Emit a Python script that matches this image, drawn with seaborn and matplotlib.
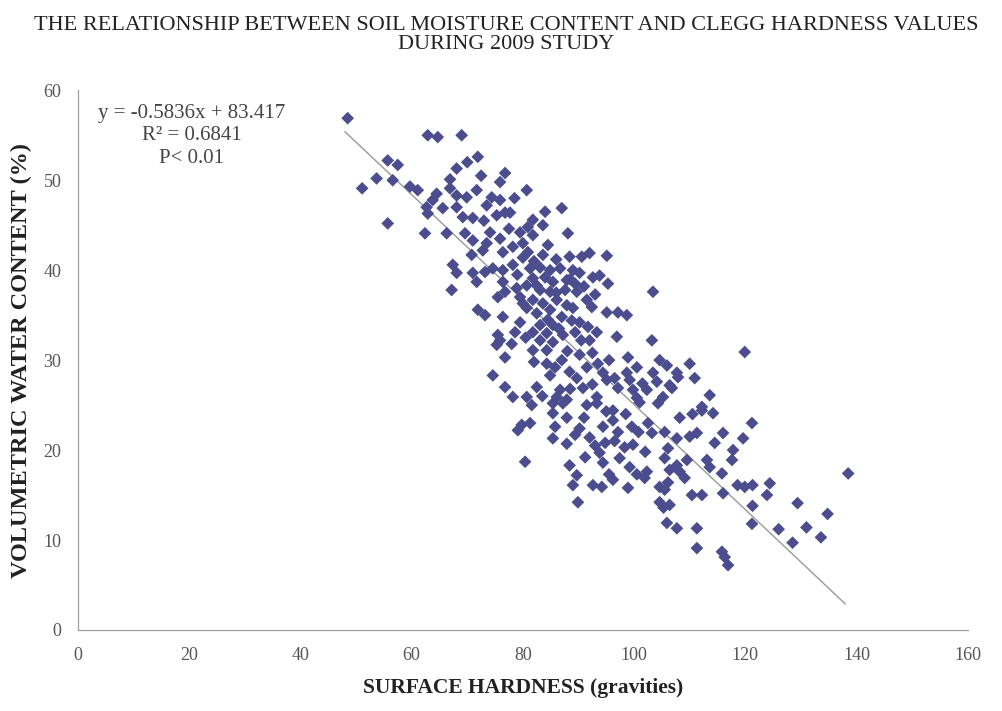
import numpy as np
import pandas as pd
import matplotlib
matplotlib.use("Agg")
import matplotlib.pyplot as plt
import seaborn as sns

# ---------- data ----------
hardness = [
    48.5, 62.9, 64.7, 69.0, 71.9, 55.7, 57.5, 68.1, 76.8, 53.7, 56.6, 59.7, 61.1, 51.1,
    66.9, 66.9, 75.9, 71.7, 68.1, 69.9, 74.4, 63.8, 62.7, 65.6, 68.1, 73.5, 75.9, 62.9,
    69.2, 71.0, 75.3, 76.8, 55.7, 62.4, 66.3, 69.6, 74.1, 71.0, 73.5, 75.9, 70.8, 72.8,
    76.4,
    80.7, 87.0, 77.7, 81.8, 83.6, 80.9, 88.1, 79.5, 81.8, 80.0, 84.5, 78.2, 80.9, 88.4,
    90.6, 92.0, 95.1, 83.6, 80.0,
    103.4, 76.4, 78.2, 81.3, 83.1, 84.9, 86.7, 89.0, 90.2, 92.6, 93.8, 81.8, 84.0, 85.4,
    87.9, 89.4, 95.3, 80.7, 76.8, 78.9, 83.1, 84.9, 87.6, 89.7, 91.5, 92.4, 95.1, 97.1,
    98.7, 79.5, 81.8, 83.6, 86.1, 87.9, 76.4, 80.7, 82.5, 84.9, 87.0, 88.8, 90.2, 91.7,
    93.3, 79.5, 83.1, 85.4, 78.6, 81.8, 84.3, 87.2, 89.4, 96.9, 103.2, 75.9, 83.1, 85.4,
    92.0, 81.8, 84.3, 90.2, 76.8, 98.9, 104.6, 84.3, 85.8, 91.5, 93.5, 105.9, 107.7, 84.9,
    88.4, 94.4, 98.7, 103.4, 89.7, 95.1, 99.2, 104.1, 106.4, 76.8, 82.5, 86.7, 90.8, 97.1,
    99.8, 102.3, 78.2, 80.7, 86.1, 87.9, 93.3, 100.5, 105.2, 91.5,
    67.4, 68.1, 71.0, 73.2, 71.7, 74.6, 76.4, 67.2, 75.5, 71.9, 73.2, 75.5, 75.3, 74.6,
    81.6, 85.4, 87.2, 85.4, 87.9, 79.8, 81.3, 79.1, 85.8, 89.4, 85.4, 87.9, 80.4, 88.4,
    89.7, 89.0, 89.9,
    93.3, 96.2, 101.0, 104.3, 112.2, 114.2, 90.2, 92.0, 94.4, 96.2, 97.1, 94.8, 99.6, 102.5,
    103.2, 105.5, 108.2, 107.7, 111.3, 116.0, 119.6, 98.3, 99.8, 106.1, 117.8, 93.8, 97.4, 91.2,
    94.4, 99.2, 105.5, 107.7, 109.5, 113.1, 113.6, 117.6, 102.3, 106.4, 108.2, 109.1, 115.8, 118.6,
    92.6, 94.2, 96.2, 98.9, 101.9, 104.6, 106.1, 105.5, 110.4, 112.2, 116.0, 104.6, 106.4, 105.3,
    105.9, 107.7, 111.3, 111.3, 115.8, 116.3, 116.9,
    121.2, 138.5, 119.9, 121.3, 124.4, 123.9, 121.3, 129.4, 134.8, 121.2, 126.0, 131.0, 128.5, 133.6,
    119.9, 110.0, 107.9, 110.9, 106.8, 113.6, 112.2,
    # denser core of the cloud
    82.0, 86.0, 79.0, 88.5, 91.0, 82.5, 86.0, 93.0, 80.0, 84.5, 89.0, 86.5, 90.5, 80.5,
    78.0, 88.0, 82.0, 87.0, 92.5, 95.5, 96.5, 100.5, 101.5, 92.5, 88.5, 83.5, 95.0, 98.5,
    91.0, 100.8, 93.0, 96.5, 102.0, 95.5, 100.5, 110.0, 114.5, 110.5, 77.5, 73.0, 78.5, 84.0,
    72.5, 64.5, 70.0,
]
moisture = [
    56.9, 55.0, 54.8, 55.0, 52.6, 52.2, 51.7, 51.3, 50.8, 50.2, 50.0, 49.3, 48.9, 49.1,
    50.1, 49.1, 49.8, 48.9, 48.3, 48.1, 48.1, 47.8, 47.0, 46.9, 47.0, 47.2, 47.8, 46.3,
    45.9, 45.8, 46.1, 46.4, 45.2, 44.1, 44.1, 44.1, 44.2, 43.3, 43.0, 43.5, 41.7, 42.2,
    42.0,
    48.9, 46.9, 46.4, 45.6, 45.0, 44.8, 44.1, 44.2, 43.9, 43.0, 42.8, 42.6, 42.0, 41.5,
    41.5, 41.9, 41.6, 41.7, 41.4,
    37.6, 40.0, 40.6, 40.2, 40.3, 40.0, 40.2, 40.0, 39.7, 39.2, 39.4, 39.1, 39.2, 38.7,
    38.9, 38.5, 38.5, 38.3, 37.6, 38.0, 37.8, 37.6, 37.8, 37.6, 36.7, 35.9, 35.3, 35.3,
    35.0, 37.0, 36.7, 36.3, 36.7, 36.1, 34.8, 35.8, 35.2, 35.6, 34.8, 34.4, 34.2, 33.7,
    33.1, 34.2, 33.9, 33.9, 33.1, 33.1, 33.0, 32.8, 33.1, 32.6, 32.2, 32.2, 32.2, 32.0,
    32.2, 31.1, 31.1, 30.6, 30.3, 30.3, 30.0, 29.6, 29.2, 29.2, 29.6, 29.4, 28.6, 28.3,
    28.7, 28.6, 28.6, 28.6, 28.0, 27.8, 27.8, 27.6, 27.2, 27.0, 27.0, 26.7, 26.9, 26.9,
    26.7, 26.7, 25.9, 25.9, 25.9, 25.6, 25.9, 25.8, 25.9, 25.0,
    40.6, 39.7, 39.7, 39.8, 38.7, 40.2, 38.7, 37.8, 37.0, 35.6, 35.0, 32.8, 31.7, 28.3,
    25.0, 25.2, 25.2, 24.1, 23.6, 22.8, 23.0, 22.2, 22.6, 21.7, 21.3, 20.7, 18.7, 18.3,
    17.2, 16.1, 14.2,
    25.2, 24.4, 25.3, 25.2, 24.4, 24.1, 22.4, 21.4, 22.6, 23.3, 22.0, 20.8, 22.6, 23.0,
    21.9, 22.0, 23.6, 21.3, 21.9, 21.9, 21.3, 20.3, 20.6, 20.2, 20.0, 19.7, 19.1, 19.2,
    18.6, 18.1, 19.1, 18.3, 18.9, 18.9, 18.1, 18.9, 17.6, 17.8, 17.6, 16.9, 17.4, 16.1,
    16.1, 15.9, 16.7, 15.8, 16.9, 15.9, 16.4, 15.6, 15.0, 15.0, 15.2, 14.2, 13.9, 13.6,
    11.9, 11.3, 11.3, 9.1, 8.7, 8.1, 7.2,
    23.0, 17.4, 15.9, 16.1, 16.3, 15.0, 13.8, 14.1, 12.9, 11.8, 11.2, 11.4, 9.7, 10.3,
    30.9, 29.6, 28.1, 28.0, 26.9, 26.1, 24.8,
    41.0, 41.2, 39.5, 39.0, 38.2, 38.3, 37.5, 37.3, 36.3, 34.5, 35.8, 33.5, 32.2, 32.5,
    31.8, 31.0, 29.8, 30.0, 30.8, 30.0, 28.0, 29.2, 27.4, 27.3, 26.8, 26.0, 24.3, 24.0,
    23.6, 22.0, 20.5, 21.0, 19.8, 17.3, 17.3, 21.5, 20.8, 24.0, 44.6, 45.5, 48.0, 46.5,
    50.5, 48.5, 52.0,
]

# linear trend line reported on the chart
slope, intercept = -0.5836, 83.417
trend_x = [48, 138]

x_ticks = [0, 20, 40, 60, 80, 100, 120, 140, 160]
y_ticks = [0, 10, 20, 30, 40, 50, 60]

df = pd.DataFrame({"hardness": hardness, "moisture": moisture})

sns.set_style("white")
plt.rcParams["font.family"] = ["Liberation Serif", "DejaVu Serif"]

fig = plt.figure(figsize=(10.02, 7.11), dpi=100)
ax = fig.add_axes([0.0778, 0.114, 0.888, 0.759])

sns.scatterplot(data=df, x="hardness", y="moisture", marker="D", s=42,
                color="#4b4d8e", edgecolor="none", ax=ax, zorder=3)

tx = np.array(trend_x, dtype=float)
ax.plot(tx, slope * tx + intercept, color="#9a9a9a", lw=1.0, zorder=2)

ax.set_xlim(0, 160)
ax.set_ylim(0, 60)
ax.set_xticks(x_ticks)
ax.set_yticks(y_ticks)
ax.tick_params(axis="both", direction="out", length=4, width=0.8,
               color="#999999", labelcolor="#555555", labelsize=13, pad=8)
for side in ["top", "right"]:
    ax.spines[side].set_visible(False)
for side in ["left", "bottom"]:
    ax.spines[side].set_color("#a0a0a0")
    ax.spines[side].set_linewidth(0.9)

ax.set_xlabel("SURFACE HARDNESS (gravities)", fontsize=15.5, fontweight="bold",
              color="#222222", labelpad=10)
ax.set_ylabel("VOLUMETRIC WATER CONTENT (%)", fontsize=17.5, fontweight="bold",
              color="#222222", labelpad=8)

fig.text(0.505, 0.978, "THE RELATIONSHIP BETWEEN SOIL MOISTURE CONTENT AND CLEGG HARDNESS VALUES\nDURING 2009 STUDY",
         ha="center", va="top", fontsize=16, color="#222222", linespacing=1.05)

ax.text(0.128, 0.975, "y = -0.5836x + 83.417\nR² = 0.6841\nP< 0.01",
        transform=ax.transAxes, ha="center", va="top", fontsize=15,
        color="#444444", linespacing=1.25)

plt.savefig("out.png", dpi=100, facecolor="white")
plt.close()
